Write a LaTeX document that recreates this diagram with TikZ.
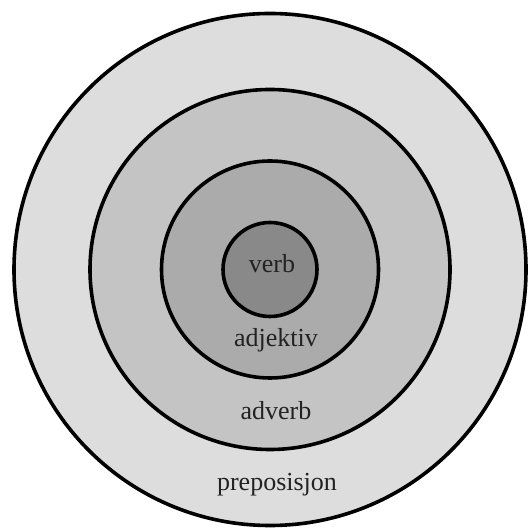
\documentclass[tikz,border=0pt]{standalone}
\usepackage{fontspec}
\setmainfont{Liberation Serif}
\usepackage{xcolor}
\usepackage{tikz}
\usetikzlibrary{positioning}

\definecolor{ringA}{RGB}{221,221,221}
\definecolor{ringB}{RGB}{196,196,196}
\definecolor{ringC}{RGB}{171,171,171}
\definecolor{ringD}{RGB}{137,137,137}
\definecolor{labeltext}{RGB}{34,34,34}

\begin{document}
\begin{tikzpicture}[
    x=1pt, y=1pt,
    ring/.style={circle, draw=black, line width=3.6pt, inner sep=0pt, outer sep=0pt},
    word/.style={anchor=base, font=\fontsize{26}{30}\selectfont, text=labeltext, inner sep=0pt}
]
    \useasboundingbox (0, 0) rectangle (528, 529);

    % Rings, outermost first
    \node[ring, fill=ringA, minimum size=512] (prep) at (270, 259.5) {};
    \node[ring, fill=ringB, minimum size=360] (adv) at (270, 259.5) {};
    \node[ring, fill=ringC, minimum size=217] (adj) at (270, 259.5) {};
    \node[ring, fill=ringD, minimum size=94] (verb) at (270, 259.5) {};

    % Labels
    \node[word] (verblabel) at (272, 256) {verb};
    \node[word] (adjlabel) at (276, 182) {adjektiv};
    \node[word] (advlabel) at (276, 109) {adverb};
    \node[word] (preplabel) at (277, 38) {preposisjon};
\end{tikzpicture}
\end{document}
